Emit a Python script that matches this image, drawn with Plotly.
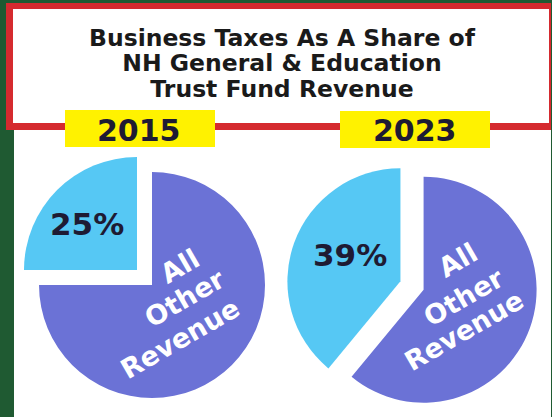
import plotly.graph_objects as go

# ---- data ----
title_lines = ["Business Taxes As A Share of", "NH General & Education", "Trust Fund Revenue"]
years = ["2015", "2023"]
labels = ["Business Taxes", "All Other Revenue"]
shares_2015 = [25, 75]
shares_2023 = [39, 61]

W, H = 552, 417
GREEN = "#1F5A32"
RED = "#D52A2F"
YELLOW = "#FFF200"
CYAN = "#56C8F4"
PURPLE = "#6B72D6"
DARK = "#1E1B33"
FONT = "DejaVu Sans"


def px(x):
    return x / W


def py(y):
    return 1 - y / H


def rect(x0, y0, x1, y1, color):
    return dict(type="rect", xref="paper", yref="paper", x0=px(x0), x1=px(x1),
                y0=py(y1), y1=py(y0), fillcolor=color, line=dict(width=0), layer="below")


def pie_domain(cx, cy, r, pull):
    half = r * (1 + pull)
    return dict(x=[px(cx - half), px(cx + half)], y=[py(cy + half), py(cy - half)])


def label(text, x, y, size, color, angle=0):
    return dict(text=text, x=px(x), y=py(y), xref="paper", yref="paper",
                showarrow=False, xanchor="center", yanchor="middle", textangle=angle,
                font=dict(family=FONT, size=size, color=color))


fig = go.Figure()

pies = [
    (shares_2015, 144.5, 277.5, 113, 0.094),
    (shares_2023, 412, 285.5, 113, 0.109),
]
for vals, cx, cy, r, pull in pies:
    # "All Other Revenue" runs clockwise from 12 o'clock, business taxes close the circle
    fig.add_trace(go.Pie(
        labels=labels[::-1], values=vals[::-1], sort=False, direction="clockwise", rotation=0,
        marker=dict(colors=[PURPLE, CYAN], line=dict(width=0)),
        pull=[pull, pull], textinfo="none", hoverinfo="label+percent",
        domain=pie_domain(cx, cy, r, pull), showlegend=False,
    ))

shapes = [
    rect(14, 3, 551, 417, "white"),
    rect(6, 3, 551, 130, RED),
    rect(13, 9, 549, 123, "white"),
    rect(65, 110, 215, 147, YELLOW),
    rect(340, 111, 490, 148, YELLOW),
]

# title: glyphs at 23.5px, line pitch 25.5px (1.3em of the 19.6px base size)
title_html = "<br>".join(f'<span style="font-size:23.5px"><b>{t}</b></span>' for t in title_lines)
annotations = [dict(text=title_html, x=px(282), y=py(64), xref="paper", yref="paper",
                    showarrow=False, xanchor="center", yanchor="middle",
                    font=dict(family=FONT, size=19.6, color="#1a1a1a"))]

for yr, (x, y) in zip(years, [(139, 130), (415, 130)]):
    annotations.append(label(f"<b>{yr}</b>", x, y, 30, DARK))

for vals, (x, y) in zip([shares_2015, shares_2023], [(87, 224), (350, 255)]):
    annotations.append(label(f"<b>{vals[0]}%</b>", x, y, 31, DARK))

other_words = labels[1].split(" ")
other_pos = [
    [(179, 266), (184, 298), (180, 338)],
    [(457, 260), (463, 297), (464, 330)],
]
for pos in other_pos:
    for word, (x, y) in zip(other_words, pos):
        annotations.append(label(f"<b>{word}</b>", x, y, 27, "white", angle=-30))

fig.update_layout(
    width=W, height=H, margin=dict(l=0, r=0, t=0, b=0),
    paper_bgcolor=GREEN, plot_bgcolor=GREEN,
    shapes=shapes, annotations=annotations,
)

fig.write_html("out.html", config={"displayModeBar": False},
               post_script="document.body.style.margin='0';")
